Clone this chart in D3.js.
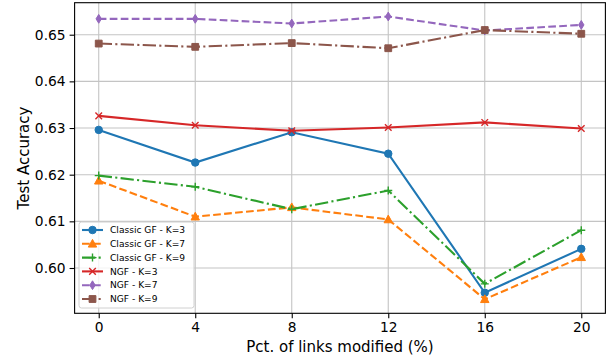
<!DOCTYPE html>
<meta charset="utf-8">
<style>
    body { margin: 0; background: #fff; }
    text { font-family: "DejaVu Sans", sans-serif; fill: #000; }
</style>
<svg width="606" height="360"></svg>
<script src="https://d3js.org/d3.v7.min.js"></script>
<script>

    // data
    var pct = [0, 4, 8, 12, 16, 20];
    var classicK3 = [0.6296, 0.6226, 0.6291, 0.6245, 0.5947, 0.6041];
    var classicK7 = [0.6187, 0.6110, 0.6130, 0.6104, 0.5933, 0.6023];
    var classicK9 = [0.6198, 0.6174, 0.6126, 0.6166, 0.5966, 0.6081];
    var ngfK3 = [0.6326, 0.6306, 0.6294, 0.6301, 0.6312, 0.6299];
    var ngfK7 = [0.6534, 0.6534, 0.6524, 0.6539, 0.6509, 0.6521];
    var ngfK9 = [0.6481, 0.6474, 0.6482, 0.6471, 0.6510, 0.6502];
    var yTicks = [0.60, 0.61, 0.62, 0.63, 0.64, 0.65];

    var series = [
        {name: "Classic GF - K=3", values: classicK3, color: "#1f77b4", dash: null, marker: "circle"},
        {name: "Classic GF - K=7", values: classicK7, color: "#ff7f0e", dash: "7.7,3.3", marker: "triangle"},
        {name: "Classic GF - K=9", values: classicK9, color: "#2ca02c", dash: "13.3,3.3,2.1,3.3", marker: "plus"},
        {name: "NGF - K=3", values: ngfK3, color: "#d62728", dash: null, marker: "x"},
        {name: "NGF - K=7", values: ngfK7, color: "#9467bd", dash: "7.7,3.3", marker: "thindiamond"},
        {name: "NGF - K=9", values: ngfK9, color: "#8c564b", dash: "13.3,3.3,2.1,3.3", marker: "square"}
    ];

    var svg = d3.select("svg");
    var plotLeft = 74.6, plotRight = 605.4, plotTop = 2.7, plotBottom = 313.3;

    var x = d3.scaleLinear().domain([-1, 21]).range([plotLeft, plotRight]);
    var y = d3.scaleLinear().domain([0.59029, 0.65686]).range([plotBottom, plotTop]);

    // grid
    var grid = svg.append("g").attr("stroke", "#c4c4c4").attr("stroke-width", 1.1);
    grid.selectAll("line.v").data(pct).enter().append("line")
        .attr("x1", d => x(d)).attr("x2", d => x(d))
        .attr("y1", plotTop).attr("y2", plotBottom);
    grid.selectAll("line.h").data(yTicks).enter().append("line")
        .attr("y1", d => y(d)).attr("y2", d => y(d))
        .attr("x1", plotLeft).attr("x2", plotRight);

    function markerPath(type) {
        switch (type) {
            case "circle": return d3.symbol(d3.symbolCircle, 44)();
            case "triangle": return "M0,-4.4L4.2,3.3L-4.2,3.3Z";
            case "square": return "M-3.4,-3.4H3.4V3.4H-3.4Z";
            case "thindiamond": return "M0,-4.4L2.7,0L0,4.4L-2.7,0Z";
            case "plus": return "M-4,0H4M0,-4V4";
            case "x": return "M-3.3,-3.3L3.3,3.3M-3.3,3.3L3.3,-3.3";
        }
    }

    function drawMarker(g, s, px, py) {
        var open = s.marker === "plus" || s.marker === "x";
        g.append("path")
            .attr("d", markerPath(s.marker))
            .attr("transform", "translate(" + px + "," + py + ")")
            .attr("fill", open ? "none" : s.color)
            .attr("stroke", s.color)
            .attr("stroke-width", open ? 1.4 : 1);
    }

    var line = d3.line().x((d, i) => x(pct[i])).y(d => y(d));

    var plot = svg.append("g");
    series.forEach(function (s) {
        plot.append("path")
            .attr("d", line(s.values))
            .attr("fill", "none")
            .attr("stroke", s.color)
            .attr("stroke-width", 2.1)
            .attr("stroke-dasharray", s.dash);
        s.values.forEach(function (v, i) {
            drawMarker(plot, s, x(pct[i]), y(v));
        });
    });

    // frame
    svg.append("rect")
        .attr("x", plotLeft).attr("y", plotTop)
        .attr("width", plotRight - plotLeft).attr("height", plotBottom - plotTop)
        .attr("fill", "none").attr("stroke", "#000").attr("stroke-width", 1.1);

    // axes
    var xAxis = svg.append("g")
        .attr("transform", "translate(0," + plotBottom + ")")
        .call(d3.axisBottom(x).tickValues(pct).tickSize(5).tickPadding(4));
    var yAxis = svg.append("g")
        .attr("transform", "translate(" + plotLeft + ",0)")
        .call(d3.axisLeft(y).tickValues(yTicks).tickFormat(d3.format(".2f")).tickSize(5).tickPadding(4));
    [xAxis, yAxis].forEach(function (a) {
        a.select(".domain").remove();
        a.selectAll("text").attr("font-size", 13.8).attr("font-family", "DejaVu Sans");
        a.selectAll("line").attr("stroke-width", 1.1);
    });

    svg.append("text")
        .attr("x", (plotLeft + plotRight) / 2).attr("y", 352)
        .attr("text-anchor", "middle").attr("font-size", 15)
        .text("Pct. of links modified (%)");
    svg.append("text")
        .attr("transform", "translate(29," + ((plotTop + plotBottom) / 2) + ") rotate(-90)")
        .attr("text-anchor", "middle").attr("font-size", 15)
        .text("Test Accuracy");

    // legend
    var legend = svg.append("g");
    legend.append("rect")
        .attr("x", 79).attr("y", 222).attr("width", 115).attr("height", 86)
        .attr("rx", 2.5)
        .attr("fill", "#fff").attr("fill-opacity", 0.8)
        .attr("stroke", "#d0d0d0").attr("stroke-width", 1);
    series.forEach(function (s, i) {
        var ly = 230 + i * 13.8;
        legend.append("line")
            .attr("x1", 82).attr("x2", 103).attr("y1", ly).attr("y2", ly)
            .attr("stroke", s.color).attr("stroke-width", 2.1)
            .attr("stroke-dasharray", s.dash);
        drawMarker(legend, s, 92.5, ly);
        legend.append("text")
            .attr("x", 110).attr("y", ly).attr("dy", "0.35em")
            .attr("font-size", 9.1)
            .text(s.name);
    });

</script>
